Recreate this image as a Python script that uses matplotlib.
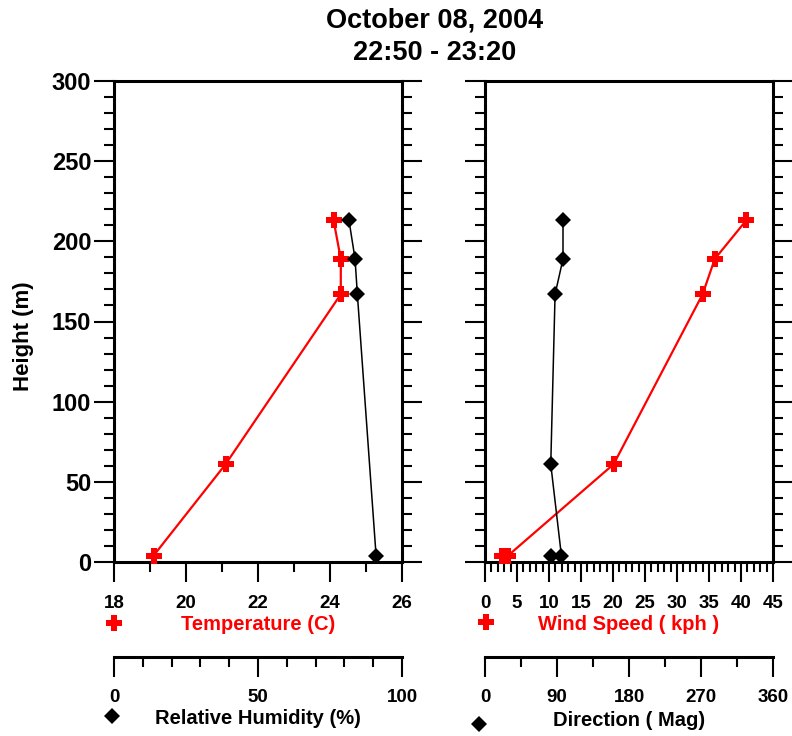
import matplotlib
matplotlib.use('Agg')
import matplotlib.pyplot as plt
from matplotlib.ticker import MultipleLocator
from matplotlib.lines import Line2D

plt.rcParams['font.family'] = ['Liberation Sans', 'DejaVu Sans']
plt.rcParams['font.weight'] = 'bold'

temp_heights = [4, 61, 167, 189, 213]
temperature = [19.1, 21.1, 24.3, 24.3, 24.1]

rh_heights = [4, 167, 189, 213]
humidity = [91, 84.5, 83.7, 81.6]

wind_heights = [4, 4, 61, 167, 189, 213]
wind_speed = [2.65, 3.6, 20.1, 34.0, 35.9, 40.8]
direction = [82.6, 95.5, 82.2, 87.6, 97.5, 97.5]

title_lines = ['October 08, 2004', '22:50 - 23:20']

W, H = 792, 736
fig = plt.figure(figsize=(W / 100, H / 100), dpi=100)


def fx(px):
    return px / W


def fy(py):
    return 1 - py / H


TOP, BOT = 81, 562
PT = 72 / 100  # points per pixel


def style_main(ax, xmaj, xmin, ylabels=True):
    for s in ax.spines.values():
        s.set_linewidth(2.2)
    ax.set_ylim(0, 300)
    ax.yaxis.set_major_locator(MultipleLocator(50))
    ax.yaxis.set_minor_locator(MultipleLocator(10))
    ax.xaxis.set_major_locator(MultipleLocator(xmaj))
    ax.xaxis.set_minor_locator(MultipleLocator(xmin))
    ax.tick_params(which='both', direction='out', width=1.5,
                   left=True, right=True, top=False, bottom=True)
    ax.tick_params(which='major', length=20 * PT)
    ax.tick_params(which='minor', length=10 * PT)
    ax.tick_params(axis='y', labelsize=17, pad=2, labelleft=ylabels)
    ax.tick_params(axis='x', labelsize=13.5, pad=9)


def style_second(ax, lo, hi, maj, mnr):
    ax.set_xlim(lo, hi)
    for k in ('top', 'left', 'right'):
        ax.spines[k].set_visible(False)
    ax.spines['bottom'].set_visible(True)
    ax.spines['bottom'].set_linewidth(2.2)
    ax.spines['bottom'].set_position(('axes', -(657 - BOT) / (BOT - TOP)))
    ax.xaxis.set_ticks_position('bottom')
    ax.xaxis.set_major_locator(MultipleLocator(maj))
    ax.xaxis.set_minor_locator(MultipleLocator(mnr))
    ax.tick_params(which='both', direction='out', width=1.5)
    ax.tick_params(which='major', length=20 * PT, labelsize=13.5, pad=9)
    ax.tick_params(which='minor', length=10 * PT)


red_kw = dict(color='red', lw=1.6, marker='P', ms=11.5, mew=0, clip_on=False, zorder=5)
blk_kw = dict(color='black', lw=1.1, marker='D', ms=8.5, mew=0, clip_on=False, zorder=6)

# left panel: temperature / humidity
ax1 = fig.add_axes([fx(114), fy(BOT), fx(402 - 114), (BOT - TOP) / H])
ax1.set_xlim(18, 26)
style_main(ax1, 2, 1)
ax1.plot(temperature, temp_heights, **red_kw)

ax1b = ax1.twiny()
style_second(ax1b, 0, 100, 50, 10)
ax1b.plot(humidity, rh_heights, **blk_kw)

# right panel: wind speed / direction
ax2 = fig.add_axes([fx(485), fy(BOT), fx(773 - 485), (BOT - TOP) / H])
ax2.set_xlim(0, 45)
style_main(ax2, 5, 1, ylabels=False)
ax2.plot(wind_speed, wind_heights, **red_kw)

ax2b = ax2.twiny()
style_second(ax2b, 0, 360, 90, 45)
ax2b.plot(direction, wind_heights, **blk_kw)

# labels
fig.text(fx(24), fy(336), 'Height (m)', rotation=90, ha='center', va='center',
         fontsize=16, fontweight='bold')
fig.text(fx(258), fy(625), 'Temperature (C)', color='red', ha='center', va='center',
         fontsize=14.5, fontweight='bold')
fig.text(fx(258), fy(718), 'Relative Humidity (%)', ha='center', va='center',
         fontsize=14.5, fontweight='bold')
fig.text(fx(629), fy(625), 'Wind Speed ( kph )', color='red', ha='center', va='center',
         fontsize=14.5, fontweight='bold')
fig.text(fx(629), fy(720), 'Direction ( Mag)', ha='center', va='center',
         fontsize=14.5, fontweight='bold')

# legend keys
for (x, y, m, c, s) in [(114, 623, 'P', 'red', 11.5), (486, 622, 'P', 'red', 11.5),
                        (112, 716, 'D', 'black', 8.5), (479, 724, 'D', 'black', 8.5)]:
    fig.add_artist(Line2D([fx(x)], [fy(y)], transform=fig.transFigure, marker=m,
                          color=c, ms=s, mew=0, lw=0))

fig.text(fx(435), fy(21), title_lines[0], ha='center', va='center',
         fontsize=19.5, fontweight='bold')
fig.text(fx(435), fy(53), title_lines[1], ha='center', va='center',
         fontsize=19.5, fontweight='bold')

fig.savefig('out.png', dpi=100)
